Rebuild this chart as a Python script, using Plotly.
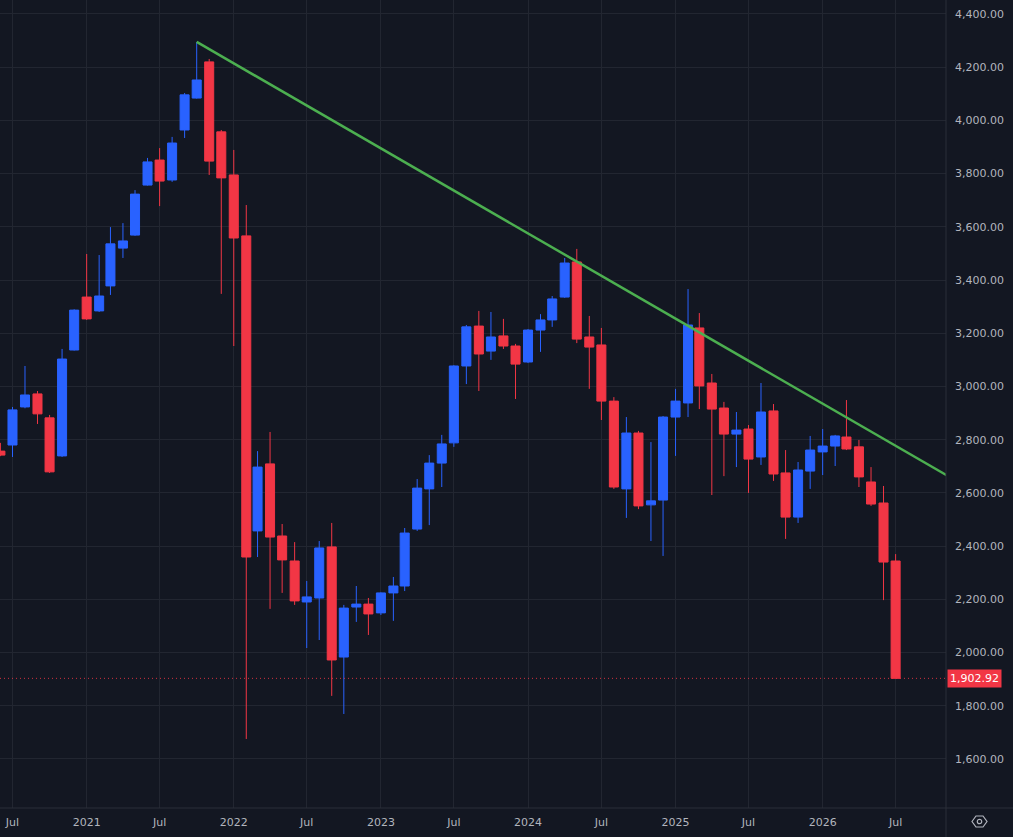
"""Bougies mensuelles avec ligne de tendance (style TradingView sombre)"""
import pandas as pd
import plotly.graph_objects as go

# données mensuelles (juin 2020 -> juillet 2026)
months = pd.date_range("2020-06-01", periods=74, freq="MS")

open_ = [2757, 2780, 2923, 2972, 2882, 2739, 3137, 3336, 3284, 3378, 3520, 3569,
         3757, 3851, 3776, 3964, 4084, 4220, 3957, 3795, 3566, 2457, 2709, 2438,
         2344, 2190, 2205, 2397, 1983, 2171, 2182, 2149, 2224, 2250, 2464, 2615,
         2712, 2788, 3077, 3227, 3133, 3190, 3152, 3092, 3212, 3250, 3336, 3468,
         3186, 3156, 2945, 2615, 2825, 2555, 2573, 2885, 2938, 3220, 3013, 2919,
         2821, 2840, 2735, 2908, 2675, 2509, 2682, 2754, 2776, 2810, 2773, 2641,
         2562, 2344]
high = [2788, 2923, 3077, 2983, 2893, 3141, 3290, 3498, 3494, 3599, 3614, 3738,
        3859, 3896, 3938, 4103, 4295, 4231, 3964, 3889, 3682, 2757, 2829, 2483,
        2415, 2269, 2419, 2487, 2179, 2250, 2205, 2226, 2284, 2468, 2652, 2742,
        2818, 3080, 3231, 3284, 3280, 3254, 3160, 3216, 3272, 3340, 3483, 3517,
        3265, 3220, 2960, 2885, 2833, 2791, 2889, 2991, 3366, 3276, 3047, 2942,
        2904, 2855, 3013, 2934, 2761, 2716, 2814, 2840, 2818, 2949, 2799, 2697,
        2626, 2370]
low = [2738, 2735, 2918, 2859, 2675, 2735, 3135, 3250, 3280, 3344, 3483, 3566,
       3755, 3678, 3769, 3934, 4082, 3795, 3348, 3152, 1675, 2359, 2164, 2224,
       2179, 2017, 2047, 1837, 1769, 2115, 2066, 2141, 2119, 2231, 2457, 2479,
       2622, 2773, 3009, 2983, 3100, 3141, 2953, 3088, 3130, 3224, 3333, 3163,
       2991, 2874, 2615, 2506, 2539, 2419, 2363, 2739, 2885, 2915, 2592, 2663,
       2697, 2600, 2705, 2645, 2427, 2487, 2615, 2667, 2701, 2761, 2622, 2551,
       2197, 1902.92]
close = [2742, 2912, 2968, 2897, 2679, 3103, 3287, 3254, 3340, 3536, 3547, 3723,
         3844, 3772, 3915, 4096, 4152, 3847, 3784, 3558, 2359, 2697, 2434, 2348,
         2194, 2209, 2393, 1972, 2167, 2182, 2145, 2224, 2250, 2449, 2618, 2712,
         2784, 3077, 3224, 3122, 3186, 3152, 3084, 3212, 3250, 3329, 3464, 3178,
         3148, 2945, 2622, 2825, 2551, 2570, 2885, 2945, 3231, 3002, 2915, 2821,
         2836, 2727, 2904, 2671, 2509, 2686, 2761, 2776, 2814, 2765, 2660, 2558,
         2340, 1902.92]

last_price = 1902.92

# ligne de tendance (du sommet d'octobre 2021 vers la droite)
trend_x = ["2021-10-01", "2026-12-01"]
trend_y = [4295, 2643]

# axes
x_tickvals = ["2020-07-01", "2021-01-01", "2021-07-01", "2022-01-01", "2022-07-01",
              "2023-01-01", "2023-07-01", "2024-01-01", "2024-07-01", "2025-01-01",
              "2025-07-01", "2026-01-01", "2026-07-01"]
x_ticktext = ["Jul", "2021", "Jul", "2022", "Jul", "2023", "Jul", "2024", "Jul",
              "2025", "Jul", "2026", "Jul"]
y_tickvals = [1600, 1800, 2000, 2200, 2400, 2600, 2800, 3000, 3200, 3400, 3600,
              3800, 4000, 4200, 4400]

BG = "#131722"
GRID = "#222631"
BORDER = "#2A2E39"
TEXT = "#B2B5BE"
UP = "#2962FF"
DOWN = "#F23645"

W, H = 1013, 837
PLOT_W, PLOT_H = 946, 808


def px(x, y):
    """pixels de la page -> coordonnées paper"""
    return x / PLOT_W, (PLOT_H - y) / PLOT_H


fig = go.Figure()
fig.add_trace(go.Candlestick(
    x=months, open=open_, high=high, low=low, close=close,
    increasing=dict(line=dict(color=UP, width=1), fillcolor=UP),
    decreasing=dict(line=dict(color=DOWN, width=1), fillcolor=DOWN),
    whiskerwidth=0, showlegend=False, hoverinfo="skip",
))
fig.add_trace(go.Scatter(
    x=trend_x, y=trend_y, mode="lines",
    line=dict(color="#4CAF50", width=2.5), showlegend=False, hoverinfo="skip",
))

shapes = [
    # ligne pointillée du dernier prix
    dict(type="line", xref="paper", yref="y", x0=0, x1=1, y0=last_price, y1=last_price,
         line=dict(color="rgba(242,54,69,0.85)", width=1, dash="1px,3px")),
]
# séparateurs des échelles
x0, y0 = px(0, 808)
x1, _ = px(W, 808)
shapes.append(dict(type="line", xref="paper", yref="paper", x0=x0, x1=x1, y0=y0, y1=y0,
                   line=dict(color=BORDER, width=1)))
xa, ya = px(946, 0)
_, yb = px(946, H)
shapes.append(dict(type="line", xref="paper", yref="paper", x0=xa, x1=xa, y0=ya, y1=yb,
                   line=dict(color=BORDER, width=1)))
# petite icône hexagonale en bas à droite
hexa = [(972, 821.5), (976, 816), (983, 816), (987, 821.5), (983, 827), (976, 827)]
path = "M " + " L ".join("%.5f,%.5f" % px(a, b) for a, b in hexa) + " Z"
shapes.append(dict(type="path", xref="paper", yref="paper", path=path,
                   line=dict(color=TEXT, width=1.2)))
cx0, cy0 = px(977.3, 819.3)
cx1, cy1 = px(981.7, 823.7)
shapes.append(dict(type="circle", xref="paper", yref="paper", x0=cx0, x1=cx1, y0=cy0, y1=cy1,
                   line=dict(color=TEXT, width=1.2)))

fig.update_layout(
    width=W, height=H,
    margin=dict(l=0, r=W - PLOT_W, t=0, b=H - PLOT_H),
    paper_bgcolor=BG, plot_bgcolor=BG,
    font=dict(family="DejaVu Sans", size=11, color=TEXT),
    boxgap=0.2, boxgroupgap=0,
    shapes=shapes,
    annotations=[dict(
        xref="paper", yref="y", x=1, y=last_price, xanchor="left", xshift=1,
        text="1,902.92", showarrow=False, bgcolor=DOWN, borderpad=2,
        font=dict(color="white", size=11, family="DejaVu Sans"),
    )],
    xaxis=dict(
        type="date", range=["2020-05-31", "2026-11-03"],
        tickvals=x_tickvals, ticktext=x_ticktext,
        showgrid=True, gridcolor=GRID, zeroline=False,
        showline=False, ticks="", rangeslider=dict(visible=False),
        ticklabelstandoff=6,
    ),
    yaxis=dict(
        side="right", range=[1415.6, 4452.6],
        tickvals=y_tickvals, tickformat=",.2f",
        showgrid=True, gridcolor=GRID, zeroline=False,
        showline=False, ticks="", ticklabelstandoff=8,
    ),
)

fig.write_html("out.html", config={"displayModeBar": False},
               post_script="document.body.style.margin='0';")
